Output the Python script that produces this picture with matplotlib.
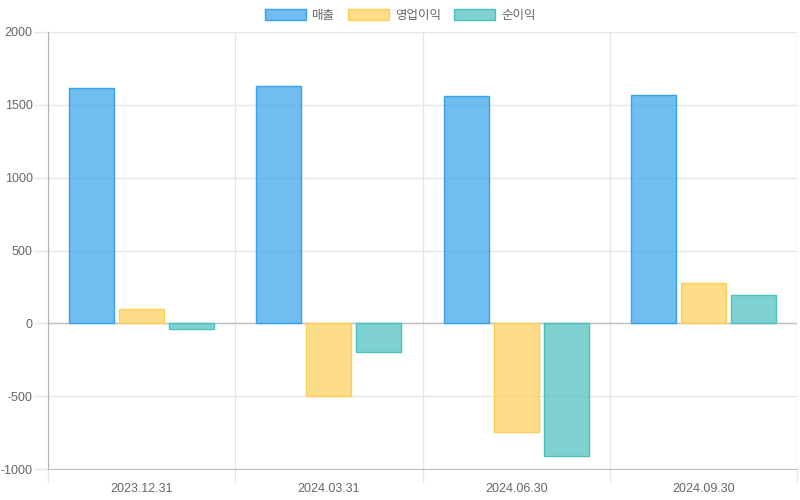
import matplotlib
matplotlib.use("Agg")
import matplotlib.pyplot as plt
from matplotlib.ticker import FixedLocator

plt.rcParams["font.family"] = ["Liberation Sans", "Noto Sans CJK KR", "DejaVu Sans"]

# data
periods = ["2023.12.31", "2024.03.31", "2024.06.30", "2024.09.30"]
series_names = ["매출", "영업이익", "순이익"]
revenue = [1615, 1628, 1562, 1566]
operating_income = [100, -500, -749, 274]
net_income = [-36, -194, -913, 192]

fills = [(54/255, 162/255, 235/255, 0.7), (255/255, 206/255, 86/255, 0.7), (75/255, 192/255, 192/255, 0.7)]
edges = ["#36a2eb", "#ffce56", "#4bc0c0"]
text_color = "#666666"
grid_color = "#e6e6e6"

fig = plt.figure(figsize=(8, 5), dpi=100)
ax = fig.add_axes([48 / 800, 31 / 500, 749 / 800, 437 / 500])

x = range(len(periods))
bar_w = 45 / 187
step = 50 / 187
for i, (name, vals) in enumerate(zip(series_names, [revenue, operating_income, net_income])):
    pos = [xi + (i - 1) * step for xi in x]
    ax.bar(pos, vals, width=bar_w, color=fills[i], edgecolor=edges[i], linewidth=1,
           label=name, zorder=3)

ax.set_xlim(-0.5, len(periods) - 0.5)
ax.set_ylim(-1000, 2000)
ax.set_yticks([-1000, -500, 0, 500, 1000, 1500, 2000])
ax.set_yticklabels(["-1000", "-500", "0", "500", "1000", "1500", "2000"])
ax.set_xticks(list(x))
ax.set_xticklabels(periods)
ax.xaxis.set_minor_locator(FixedLocator([k - 0.5 for k in range(len(periods) + 1)]))

ax.tick_params(axis="x", which="major", length=0, pad=10, labelsize=9, labelcolor=text_color)
ax.tick_params(axis="x", which="minor", length=10, color=grid_color, width=1)
ax.tick_params(axis="y", length=10, color=grid_color, width=1, pad=1, labelsize=9, labelcolor=text_color)

ax.grid(True, axis="y", color=grid_color, linewidth=1, zorder=0)
ax.grid(True, axis="x", which="minor", color=grid_color, linewidth=1, zorder=0)
ax.grid(False, axis="x", which="major")
ax.axhline(0, color="#bfbfbf", linewidth=1, zorder=2)

for side in ["top", "right"]:
    ax.spines[side].set_visible(False)
ax.spines["left"].set_color("#b3b3b3")
ax.spines["bottom"].set_color("#bfbfbf")

fig.legend(loc="upper center", bbox_to_anchor=(0.5, 1.0), ncol=3, frameon=False,
           handlelength=3.3, handleheight=1.0, handletextpad=0.5, columnspacing=1.0,
           fontsize=9, labelcolor=text_color, borderaxespad=0.3)

fig.savefig("out.png", dpi=100, facecolor="white")
